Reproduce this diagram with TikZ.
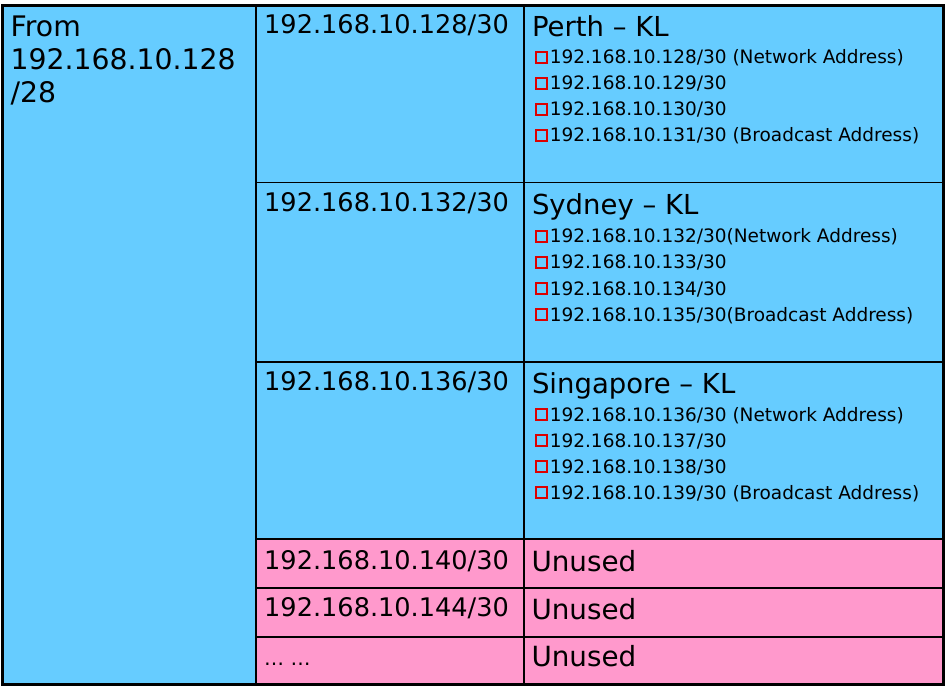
\documentclass[tikz,border=0pt]{standalone}
\usepackage{fontspec}
\setmainfont{DejaVu Sans}
\usetikzlibrary{positioning}
\definecolor{cellblue}{HTML}{66CCFF}
\definecolor{cellpink}{HTML}{FF99CC}
\definecolor{boxred}{HTML}{DD0000}
\newcommand{\redsq}{\raisebox{1.9pt}{\textcolor{boxred}{\setlength{\fboxrule}{1.9pt}\setlength{\fboxsep}{0pt}\fbox{\rule{0pt}{9.2pt}\rule{9.2pt}{0pt}}}}\hspace{1.8pt}}
\tikzset{
    cell/.style={draw, line width=1.7pt, inner sep=0pt, outer sep=0pt, anchor=north west},
    blue cell/.style={cell, fill=cellblue},
    pink cell/.style={cell, fill=cellpink},
    fromtxt/.style={inner sep=0pt, align=left, font=\fontsize{28.3}{33}\selectfont},
    nettxt/.style={inner sep=0pt, anchor=base west, font=\fontsize{25.6}{30}\selectfont},
    sitetxt/.style={inner sep=0pt, anchor=base west, font=\fontsize{27.5}{30}\selectfont},
    hosttxt/.style={inner sep=0pt, anchor=base west, font=\fontsize{18.5}{22}\selectfont},
}

\begin{document}
\begin{tikzpicture}[x=1pt, y=-1pt]
    \useasboundingbox (0,0) rectangle (948,687);

    % left column
    \node[blue cell, minimum width=253.2pt, minimum height=679pt] (from) at (2.5,5.3) {};

    % subnet column
    \node[blue cell, minimum width=268.6pt, minimum height=177.2pt] (sub1) at (from.north east) {};
    \node[blue cell, minimum width=268.6pt, minimum height=179.2pt, below=0pt of sub1] (sub2) {};
    \node[blue cell, minimum width=268.6pt, minimum height=177.3pt, below=0pt of sub2] (sub3) {};
    \node[pink cell, minimum width=268.6pt, minimum height=49.3pt, below=0pt of sub3] (sub4) {};
    \node[pink cell, minimum width=268.6pt, minimum height=48.4pt, below=0pt of sub4] (sub5) {};
    \node[pink cell, minimum width=268.6pt, minimum height=47.6pt, below=0pt of sub5] (sub6) {};

    % host column
    \node[blue cell, minimum width=419.2pt, minimum height=177.2pt, right=0pt of sub1] (host1) {};
    \node[blue cell, minimum width=419.2pt, minimum height=179.2pt, right=0pt of sub2] (host2) {};
    \node[blue cell, minimum width=419.2pt, minimum height=177.3pt, right=0pt of sub3] (host3) {};
    \node[pink cell, minimum width=419.2pt, minimum height=49.3pt, right=0pt of sub4] (host4) {};
    \node[pink cell, minimum width=419.2pt, minimum height=48.4pt, right=0pt of sub5] (host5) {};
    \node[pink cell, minimum width=419.2pt, minimum height=47.6pt, right=0pt of sub6] (host6) {};

    \draw[line width=3pt] (from.north west) rectangle (host6.south east);

    % texts
    \node[fromtxt, below right=10.1pt and 8pt of from.north west] (fromlbl) {From\\192.168.10.128\\/28};

    \node[nettxt] (net1) at ([shift={(8.3,28)}]sub1.north west) {192.168.10.128/30};
    \node[nettxt] (net2) at ([shift={(8.3,29)}]sub2.north west) {192.168.10.132/30};
    \node[nettxt] (net3) at ([shift={(8.3,28.5)}]sub3.north west) {192.168.10.136/30};
    \node[nettxt] (net4) at ([shift={(8.3,30.5)}]sub4.north west) {192.168.10.140/30};
    \node[nettxt] (net5) at ([shift={(8.3,28.5)}]sub5.north west) {192.168.10.144/30};
    \node[nettxt, font=\fontsize{20}{22}\selectfont] (net6) at ([shift={(8.3,29)}]sub6.north west) {… …};

    \node[sitetxt] (site1) at ([shift={(7.5,31)}]host1.north west) {Perth – KL};
    \node[sitetxt] (site2) at ([shift={(7.5,32.5)}]host2.north west) {Sydney – KL};
    \node[sitetxt] (site3) at ([shift={(7.5,31.6)}]host3.north west) {Singapore – KL};

    \foreach \ip [count=\k] in {128/30 (Network Address), 129/30, 130/30, 131/30 (Broadcast Address)}
        \node[hosttxt] (perth\k) at ([shift={(10.5,32.7+26*\k)}]host1.north west) {\redsq 192.168.10.\ip};
    \foreach \ip [count=\k] in {132/30(Network Address), 133/30, 134/30, 135/30(Broadcast Address)}
        \node[hosttxt] (sydney\k) at ([shift={(10.5,34.5+26*\k)}]host2.north west) {\redsq 192.168.10.\ip};
    \foreach \ip [count=\k] in {136/30 (Network Address), 137/30, 138/30, 139/30 (Broadcast Address)}
        \node[hosttxt] (sing\k) at ([shift={(10.5,33.3+26*\k)}]host3.north west) {\redsq 192.168.10.\ip};

    \node[sitetxt, font=\fontsize{27.8}{30}\selectfont] (unused1) at ([shift={(7,32.5)}]host4.north west) {Unused};
    \node[sitetxt, font=\fontsize{27.8}{30}\selectfont] (unused2) at ([shift={(7,30.7)}]host5.north west) {Unused};
    \node[sitetxt, font=\fontsize{27.8}{30}\selectfont] (unused3) at ([shift={(7,30)}]host6.north west) {Unused};
\end{tikzpicture}
\end{document}
